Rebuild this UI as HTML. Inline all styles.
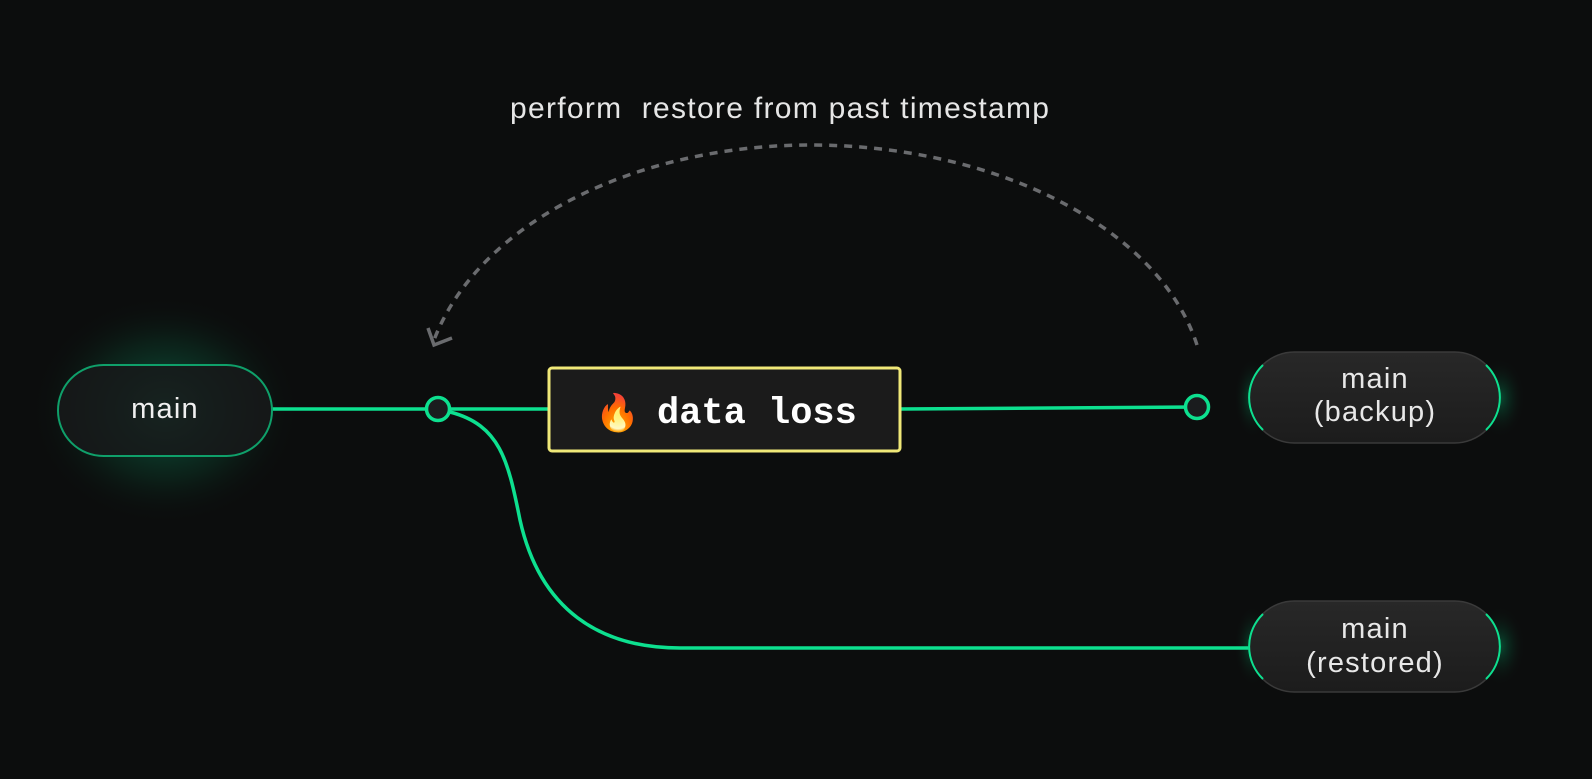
<!DOCTYPE html>
<html><head><meta charset="utf-8"><style>
html,body{margin:0;padding:0;background:#0c0d0d;}
body{width:1592px;height:779px;overflow:hidden;position:relative;font-family:"Liberation Sans",sans-serif;}
</style></head><body>
<svg width="1592" height="779" viewBox="0 0 1592 779" xmlns="http://www.w3.org/2000/svg" style="position:absolute;left:0;top:0">
<defs>
<radialGradient id="g1" cx="50%" cy="50%" r="50%">
<stop offset="0" stop-color="#11805a" stop-opacity="0.75"/>
<stop offset="0.6" stop-color="#0b3d2a" stop-opacity="0.4"/>
<stop offset="1" stop-color="#0c0d0d" stop-opacity="0"/>
</radialGradient>
<radialGradient id="g2" cx="50%" cy="50%" r="50%">
<stop offset="0" stop-color="#00e08a" stop-opacity="0.3"/>
<stop offset="1" stop-color="#0c0d0d" stop-opacity="0"/>
</radialGradient>
<linearGradient id="pill" x1="0" y1="0" x2="0" y2="1">
<stop offset="0" stop-color="#282828"/><stop offset="1" stop-color="#1c1c1c"/>
</linearGradient>
</defs>
<ellipse cx="165" cy="410" rx="135" ry="115" fill="url(#g1)"/>
<ellipse cx="1500" cy="398" rx="25" ry="40" fill="url(#g2)"/>
<ellipse cx="1500" cy="646" rx="25" ry="40" fill="url(#g2)"/>
<ellipse cx="1252" cy="398" rx="18" ry="40" fill="url(#g2)"/>
<ellipse cx="1252" cy="646" rx="18" ry="40" fill="url(#g2)"/>
<path d="M272 409 H548" stroke="#0de08f" stroke-width="3.5" fill="none"/>
<path d="M901 409 L1197 407" stroke="#0de08f" stroke-width="3.5" fill="none"/>
<path d="M450 412 C500 425 508 460 520 520 C540 610 600 648 680 648 H1250" stroke="#0de08f" stroke-width="3.5" fill="none"/>
<path d="M1197 345 C1160 230 1000 145 810 145 C640 145 480 220 434 340" stroke="#6a6b6e" stroke-width="3.5" fill="none" stroke-dasharray="8 7"/>
<path d="M428 328 L434 345 L452 338" stroke="#6a6b6e" stroke-width="3.5" fill="none"/>
<rect x="58" y="365" width="214" height="91" rx="45.5" fill="#17191a" fill-opacity="0.85" stroke="#0fa06a" stroke-width="2"/>
<text x="165" y="418" fill="#f0f0f0" font-size="29" letter-spacing="1.2" text-anchor="middle">main</text>
<rect x="1249" y="352" width="251" height="91" rx="45.5" fill="url(#pill)" stroke="#3a3a3a" stroke-width="1.5"/>
<path d="M1263 365 A45 45 0 0 0 1263 430" stroke="#0de08f" stroke-width="2" fill="none"/>
<path d="M1486 365 A45 45 0 0 1 1486 430" stroke="#0de08f" stroke-width="2" fill="none"/>
<text x="1375" y="388" fill="#e8e8e8" font-size="29" letter-spacing="1.2" text-anchor="middle">main</text>
<text x="1375" y="421" fill="#e8e8e8" font-size="29" letter-spacing="1.2" text-anchor="middle">(backup)</text>
<rect x="1249" y="601" width="251" height="91" rx="45.5" fill="url(#pill)" stroke="#3a3a3a" stroke-width="1.5"/>
<path d="M1263 614 A45 45 0 0 0 1263 679" stroke="#0de08f" stroke-width="2" fill="none"/>
<path d="M1486 614 A45 45 0 0 1 1486 679" stroke="#0de08f" stroke-width="2" fill="none"/>
<text x="1375" y="638" fill="#e8e8e8" font-size="29" letter-spacing="1.2" text-anchor="middle">main</text>
<text x="1375" y="672" fill="#e8e8e8" font-size="29" letter-spacing="1.2" text-anchor="middle">(restored)</text>
<circle cx="438" cy="409" r="11.5" fill="#1a1c1e" stroke="#0de08f" stroke-width="3.5"/>
<circle cx="1197" cy="407" r="11.5" fill="#1a1c1e" stroke="#0de08f" stroke-width="3.5"/>
<rect x="549" y="368" width="351" height="83" rx="3" fill="#1b1b1b" stroke="#f0e878" stroke-width="3"/>
<text x="595" y="425" font-size="36" font-family="Noto Color Emoji, sans-serif">🔥</text>
<text x="657" y="423" fill="#ffffff" font-size="37" font-weight="bold" font-family="Liberation Mono, monospace">data loss</text>
<text x="510" y="118" fill="#e6e6e6" font-size="30" letter-spacing="1.3" xml:space="preserve">perform  restore from past timestamp</text>
</svg>
</body></html>
